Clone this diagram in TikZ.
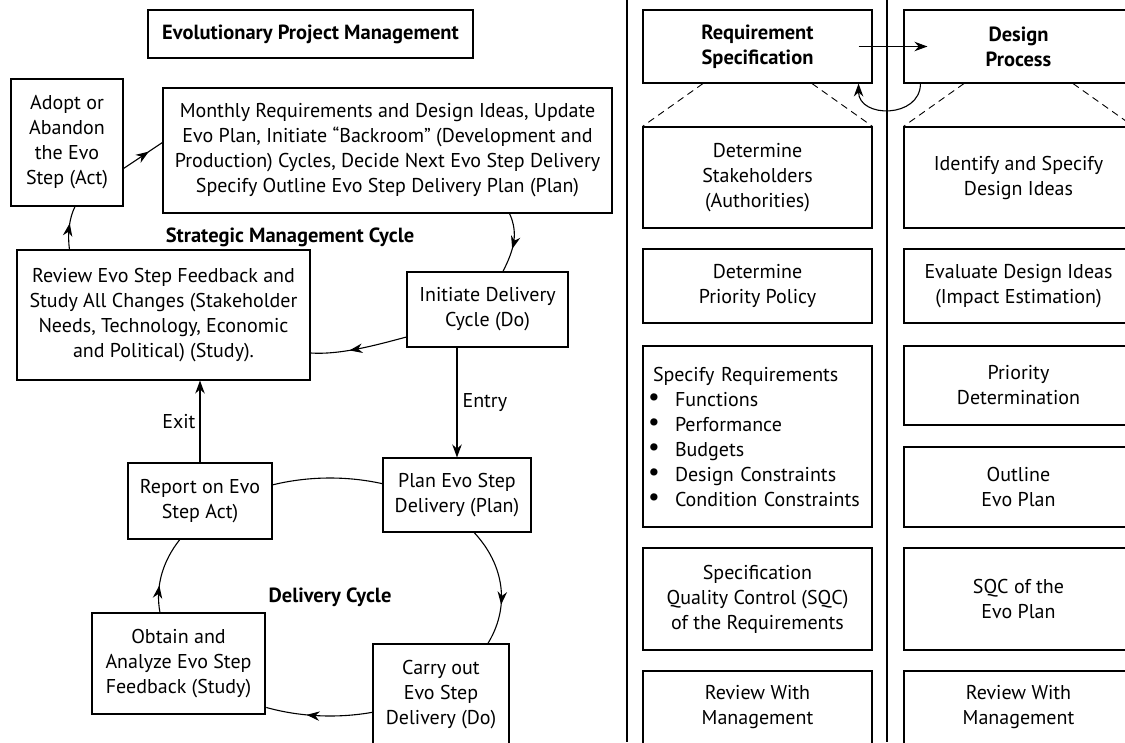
\documentclass[tikz,border=0pt]{standalone}
\usepackage{fontspec}
\setmainfont{PT Sans}
\usetikzlibrary{arrows.meta,calc,decorations.markings}
\newcommand{\bul}{\makebox[28pt][l]{\hspace*{1pt}\smash{\raisebox{0.5pt}{\scalebox{1.3}{\textbullet}}}}}
\begin{document}
\begin{tikzpicture}[x=1pt,y=-1pt,
  box/.style={draw,line width=1.1pt,fill=white,inner sep=0pt,align=center,
    font=\fontsize{20}{25}\selectfont},
  bbox/.style={box,font=\fontsize{20.5}{25}\selectfont\bfseries},
  rw/.style={minimum width=229pt},
  lbl/.style={font=\fontsize{20}{25}\selectfont,inner sep=0pt},
  blbl/.style={font=\fontsize{20.5}{25}\selectfont\bfseries,inner sep=0pt},
  conn/.style={line width=1.1pt},
  tip/.style={-{Stealth[length=13pt,width=9.5pt]}},
  midarr/.style={postaction={decorate},decoration={markings,
    mark=at position #1 with {\arrow{Stealth[length=13pt,width=9.5pt]}}}},
  midarr/.default=0.5,
  dsh/.style={line width=0.9pt,dash pattern=on 7pt off 5pt},
  sep/.style={line width=2.6pt}]
\useasboundingbox (0,0) rectangle (1125,742);
\clip (0,0) rectangle (1125,742);

% ---------- left panel ----------
\coordinate (dc) at (330,597);
\draw[conn] ([shift={(-109.4:171.5 and 119)}]dc) arc[start angle=-109.4,end angle=-72.1,x radius=171.5,y radius=119];
\draw[conn,midarr=0.65] ([shift={(-33.2:171.5 and 119)}]dc) arc[start angle=-33.2,end angle=23.8,x radius=171.5,y radius=119];
\draw[conn,midarr=0.62] ([shift={(75.4:171.5 and 119)}]dc) arc[start angle=75.4,end angle=111.8,x radius=171.5,y radius=119];
\draw[conn,midarr=0.35] ([shift={(172.3:171.5 and 119)}]dc) arc[start angle=172.3,end angle=209.1,x radius=171.5,y radius=119];

\node[bbox,minimum width=325pt,minimum height=48pt] (title) at (310.5,34) {Evolutionary Project Management};
\node[box,minimum width=112pt,minimum height=127pt] (adopt) at (67,142.5) {Adopt or\\Abandon\\the Evo\\Step (Act)};
\node[box,minimum width=449pt,minimum height=125pt] (month) at (387.5,150.5) {Monthly Requirements and Design Ideas, Update\\Evo Plan, Initiate “Backroom” (Development and\\Production) Cycles, Decide Next Evo Step Delivery\\Specify Outline Evo Step Delivery Plan (Plan)};
\node[box,minimum width=293pt,minimum height=130pt] (review) at (163.5,315) {Review Evo Step Feedback and\\Study All Changes (Stakeholder\\Needs, Technology, Economic\\and Political) (Study).};
\node[box,minimum width=161pt,minimum height=75pt] (init) at (487.5,309.5) {Initiate Delivery\\Cycle (Do)};
\node[box,minimum width=148pt,minimum height=74pt] (plan) at (457,495) {Plan Evo Step\\Delivery (Plan)};
\node[box,minimum width=144pt,minimum height=76pt] (report) at (200,501) {Report on Evo\\Step Act)};
\node[box,minimum width=173pt,minimum height=101pt] (obtain) at (178.5,663.5) {Obtain and\\Analyze Evo Step\\Feedback (Study)};
\node[box,minimum width=136pt,minimum height=102pt] (carry) at (441,695) {Carry out\\Evo Step\\Delivery (Do)};

\node[blbl] (smc) at (290,237) {Strategic Management Cycle};
\node[blbl] (dcy) at (330,597) {Delivery Cycle};

\draw[conn,midarr=0.65] ($(adopt.east)+(0,26)$) -- ($(month.west)+(0,-8)$);
\draw[conn,midarr=0.6] ($(month.south east)+(-103,0)$) .. controls +(9,20) and +(11,-22) .. ($(init.north)+(15.5,0)$);
\draw[conn,midarr=0.6] ($(init.west)+(0,27.5)$) .. controls +(-30,8) and +(30,2) .. ($(review.east)+(0,38)$);
\draw[conn,midarr=0.6] ($(review.north west)+(53,0)$) .. controls +(-2,-15) and +(-6,12) .. ($(adopt.south)+(8,0)$);
\draw[conn,tip] (plan.north |- init.south) -- (plan.north) node[lbl,pos=0.5,anchor=west,xshift=5pt] (entry) {Entry};
\draw[conn,tip] (report.north) -- (report.north |- review.south) node[lbl,pos=0.5,anchor=east,xshift=-4pt] (exit) {Exit};

% ---------- right panel ----------
\draw[sep] (627,0) -- (627,742);
\draw[sep] (887,0) -- (887,742);

\node[bbox,rw,minimum height=73pt] (req) at (757.5,46.5) {Requirement\\Specification};
\node[bbox,rw,minimum height=73pt] (des) at (1018.5,46.5) {Design\\Process};

\node[box,rw,minimum height=101pt] (r1) at (757.5,177.5) {Determine\\Stakeholders\\(Authorities)};
\node[box,rw,minimum height=74pt] (r2) at (757.5,286) {Determine\\Priority Policy};
\node[box,rw,minimum height=181pt,align=left,text width=221pt,inner xsep=4pt] (r3) at (757.5,436.5)
  {\hspace*{6pt}Specify Requirements\\
   \bul Functions\\
   \bul Performance\\
   \bul Budgets\\
   \bul Design Constraints\\
   \bul Condition Constraints};
\node[box,rw,minimum height=102pt] (r4) at (757.5,599) {Specification\\Quality Control (SQC)\\of the Requirements};
\node[box,rw,minimum height=73pt] (r5) at (757.5,707.5) {Review With\\Management};

\node[box,rw,minimum height=101pt] (d1) at (1018.5,177.5) {Identify and Specify\\Design Ideas};
\node[box,rw,minimum height=74pt] (d2) at (1018.5,286) {Evaluate Design Ideas\\(Impact Estimation)};
\node[box,rw,minimum height=79pt] (d3) at (1018.5,385.5) {Priority\\Determination};
\node[box,rw,minimum height=80pt] (d4) at (1018.5,487) {Outline\\Evo Plan};
\node[box,rw,minimum height=102pt] (d5) at (1018.5,599) {SQC of the\\Evo Plan};
\node[box,rw,minimum height=73pt] (d6) at (1018.5,707.5) {Review With\\Management};

\draw[dsh] ($(req.south)+(-54.5,0)$) -- (r1.north west);
\draw[dsh] ($(req.south)+(54.5,0)$) -- (r1.north east);
\draw[dsh] ($(des.south)+(-54.5,0)$) -- (d1.north west);
\draw[dsh] ($(des.south)+(54.5,0)$) -- (d1.north east);

\draw[conn,tip] ($(req.east)+(-14,0)$) -- ($(des.west)+(24,0)$);
\draw[conn,tip] ($(des.south west)+(17,0)$) .. controls +(0,35) and +(0,35) .. ($(req.south east)+(-14,0)$);
\end{tikzpicture}
\end{document}
